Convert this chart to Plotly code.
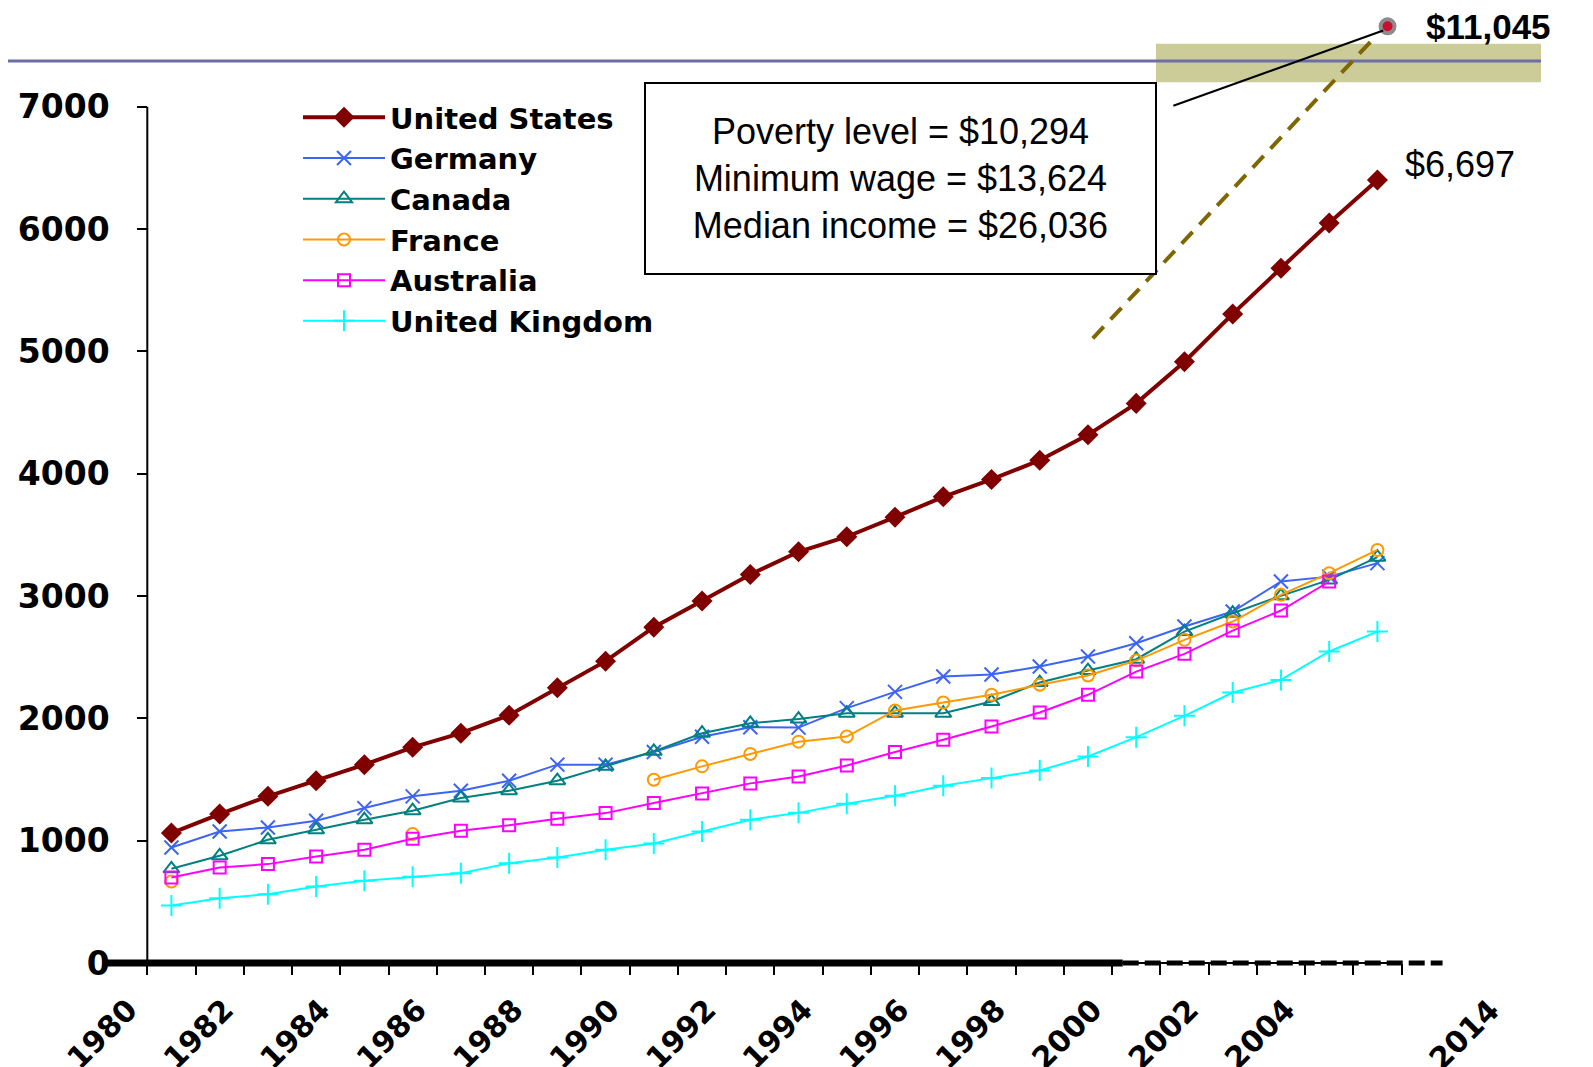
import plotly.graph_objects as go

# categories (one point per year, drawn in the middle of the year slot)
years = list(range(1980, 2006))

us = [1063, 1218, 1363, 1491, 1622, 1764, 1879, 2026, 2250, 2468, 2746, 2959, 3177,
      3362, 3485, 3645, 3811, 3953, 4110, 4318, 4575, 4916, 5306, 5680, 6050, 6400]
germany = [945, 1076, 1109, 1164, 1267, 1363, 1409, 1491, 1622, 1622, 1726, 1850, 1928,
           1925, 2084, 2217, 2343, 2359, 2424, 2506, 2615, 2751, 2874, 3119, 3159, 3269]
canada = [771, 877, 1008, 1090, 1172, 1246, 1349, 1409, 1491, 1608, 1731, 1879, 1960,
          1995, 2043, 2043, 2043, 2138, 2293, 2391, 2484, 2710, 2860, 3002, 3132, 3318]
france = [667, None, None, None, None, 1055, None, None, None, None, 1499, 1608, 1709,
          1810, 1852, 2065, 2130, 2193, 2275, 2351, 2473, 2642, 2792, 3010, 3187, 3377]
australia = [700, 782, 809, 872, 926, 1016, 1082, 1126, 1180, 1226, 1308, 1387, 1469,
             1526, 1615, 1725, 1825, 1934, 2048, 2193, 2383, 2528, 2718, 2882, 3119, None]
uk = [471, 531, 563, 626, 673, 705, 735, 817, 864, 926, 978, 1076, 1172,
      1228, 1302, 1368, 1449, 1512, 1575, 1689, 1847, 2021, 2212, 2315, 2547, 2710]

# projection to the $11,045 callout in axis units
proj_x = [1999.6, 2005.42]
proj_y = [5106, 7557]
target_x = [2005.71]
target_y = [7657]

tick_years = list(range(1980, 2007))
tick_text = [str(y) if (y % 2 == 0 and y <= 2004) else "" for y in tick_years]
y_ticks = [0, 1000, 2000, 3000, 4000, 5000, 6000, 7000]

box_lines = ["Poverty level = $10,294", "Minimum wage = $13,624", "Median income = $26,036"]

W, H = 1593, 1067
OFF = 8  # page body margin around the figure


def px(x):
    return (x - OFF) / W


def py(y):
    return 1 - (y - OFF) / H


# pixel geometry of the original axes (page pixels)
X0_PX, X_STEP = 147.3 - OFF, 48.24     # 1980 tick, px per year
Y0_PX, Y_STEP = 963.1 - OFF, 0.122343  # zero line, px per unit

x_left = 1980 - X0_PX / X_STEP
x_right = x_left + W / X_STEP
y_bot = -(H - Y0_PX) / Y_STEP
y_top = Y0_PX / Y_STEP

xs = [y + 0.5 for y in years]

label_font = dict(family="DejaVu Sans", size=30, color="black", weight="bold")

series = [
    ("United States", us, "#800000", "diamond", 4, 14, 2),
    ("Germany", germany, "#3D64F5", "x-thin-open", 2, 14, 2),
    ("Canada", canada, "#008080", "triangle-up-open", 2, 14, 2),
    ("France", france, "#FF9900", "circle-open", 2, 12, 2),
    ("Australia", australia, "#FF00FF", "square-open", 2, 12, 2),
    ("United Kingdom", uk, "#00FFFF", "cross-thin-open", 2, 15, 2),
]

fig = go.Figure()

# bottom rule: solid then dashed
fig.add_trace(go.Scatter(x=[x_left + (106.7 - OFF) / X_STEP, 2000.22], y=[0, 0], mode="lines",
                         line=dict(color="black", width=7), showlegend=False, hoverinfo="skip"))
fig.add_trace(go.Scatter(x=[2000.22, 2006.85], y=[0, 0], mode="lines",
                         line=dict(color="black", width=5, dash="16px,6px"),
                         showlegend=False, hoverinfo="skip"))

# projection line
fig.add_trace(go.Scatter(x=proj_x, y=proj_y, mode="lines",
                         line=dict(color="#806600", width=4, dash="16px,10px"),
                         showlegend=False, hoverinfo="skip"))

for name, vals, color, sym, lw, ms, mlw in series:
    fig.add_trace(go.Scatter(
        x=xs, y=vals, name=name, mode="lines+markers",
        line=dict(color=color, width=lw),
        marker=dict(symbol=sym, size=ms, color=color, line=dict(color=color, width=mlw)),
        connectgaps=False,
    ))

fig.add_trace(go.Scatter(x=target_x, y=target_y, mode="markers",
                         marker=dict(size=14, color="#C8102E", line=dict(color="#8C8C8C", width=4)),
                         showlegend=False, hoverinfo="skip", cliponaxis=False))

shapes = [
    # header band and rule
    dict(type="rect", xref="paper", yref="paper", x0=px(1156), x1=px(1541),
         y0=py(82.3), y1=py(43.7), fillcolor="#CCCC99", line=dict(width=0), layer="below"),
    dict(type="line", xref="paper", yref="paper", x0=0, x1=px(1541),
         y0=py(61), y1=py(61), line=dict(color="#6E6EA6", width=3), layer="below"),
    # axis lines
    dict(type="line", xref="x", yref="y", x0=1980, x1=1980, y0=0, y1=7000,
         line=dict(color="black", width=2)),
    dict(type="line", xref="x", yref="y", x0=1980, x1=2006, y0=0, y1=0,
         line=dict(color="black", width=2)),
    # callout line
    dict(type="line", xref="x", yref="y", x0=2001.27, y0=7008, x1=2005.62, y1=7623,
         line=dict(color="black", width=2)),
]

annotations = [
    dict(text="<br>".join(box_lines), xref="paper", yref="paper",
         x=px(900.5), y=py(178.9), xanchor="center", yanchor="middle",
         showarrow=False, align="center", valign="middle",
         width=505, height=185, borderpad=2, borderwidth=2,
         bordercolor="black", bgcolor="white",
         font=dict(family="Liberation Sans", size=36, color="black")),
    dict(text="$11,045", xref="x", yref="y", x=target_x[0], y=target_y[0],
         xanchor="left", yanchor="middle", xshift=36, showarrow=False,
         font=dict(family="Liberation Sans", size=35, color="black", weight="bold")),
    dict(text="$6,697", xref="x", yref="y", x=xs[-1], y=us[-1],
         xanchor="left", yanchor="middle", xshift=26, yshift=16, showarrow=False,
         font=dict(family="Liberation Sans", size=36, color="black")),
    dict(text="2014", xref="x", yref="y", x=2007.29, y=-580,
         xanchor="center", yanchor="middle", textangle=-45, showarrow=False,
         font=label_font),
]

fig.update_layout(
    width=W, height=H,
    margin=dict(l=0, r=0, t=0, b=0, autoexpand=False),
    plot_bgcolor="white", paper_bgcolor="white",
    xaxis=dict(range=[x_left, x_right], domain=[0, 1], anchor="free", position=(H - Y0_PX) / H,
               automargin=False, showgrid=False, zeroline=False, showline=False,
               tickmode="array", tickvals=tick_years, ticktext=tick_text,
               ticks="outside", ticklen=11, tickwidth=2, tickcolor="black",
               tickangle=-45, tickfont=label_font, ticklabelstandoff=5,
               ticklabelshift=-19),
    yaxis=dict(range=[y_bot, y_top], domain=[0, 1], anchor="free", position=X0_PX / W,
               automargin=False, showgrid=False, zeroline=False, showline=False,
               tickmode="array", tickvals=y_ticks, ticktext=[str(v) for v in y_ticks],
               ticks="outside", ticklen=10, tickwidth=2, tickcolor="black",
               tickfont=dict(family="DejaVu Sans", size=33, color="black", weight="bold"),
               ticklabelstandoff=21),
    legend=dict(x=px(298), y=py(92), xanchor="left", yanchor="top",
                bgcolor="rgba(0,0,0,0)", itemwidth=82, tracegroupgap=0,
                font=dict(family="DejaVu Sans", size=29, color="black", weight="bold")),
    shapes=shapes,
    annotations=annotations,
    showlegend=True,
)

fig.write_html("out.html")
